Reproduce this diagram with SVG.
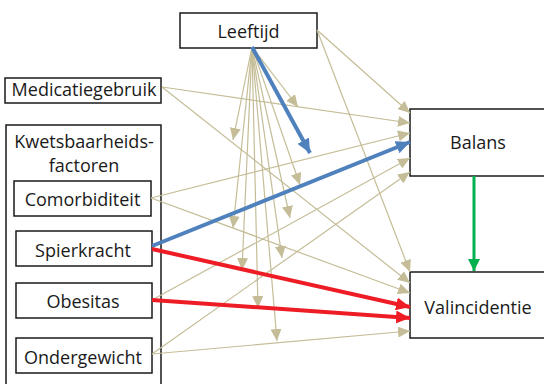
<svg xmlns="http://www.w3.org/2000/svg" width="544" height="384" viewBox="0 0 544 384">
<defs>
<style>
.box{fill:#fff;stroke:#1a1a1a;stroke-width:1.5}
.t{font-family:"Open Sans","Noto Sans",sans-serif;font-size:18px;fill:#1a1a1a;text-anchor:middle}
.tan{stroke:#C4BD97;stroke-width:1.2;fill:none;marker-end:url(#mt)}
.blue{stroke:#4F81BD;stroke-width:4;fill:none;marker-end:url(#mb)}
.red{stroke:#EE1C25;stroke-width:4;fill:none;marker-end:url(#mr)}
.green{stroke:#00B050;stroke-width:3;fill:none;marker-end:url(#mg)}
</style>
<marker id="mt" markerUnits="userSpaceOnUse" markerWidth="13" markerHeight="11" refX="12" refY="5.5" orient="auto"><path d="M0,0 L12,5.5 L0,11 z" fill="#C4BD97"/></marker>
<marker id="mb" markerUnits="userSpaceOnUse" markerWidth="15" markerHeight="13" refX="14" refY="6.5" orient="auto"><path d="M0,0 L14,6.5 L0,13 z" fill="#4F81BD"/></marker>
<marker id="mr" markerUnits="userSpaceOnUse" markerWidth="15" markerHeight="13" refX="14" refY="6.5" orient="auto"><path d="M0,0 L14,6.5 L0,13 z" fill="#EE1C25"/></marker>
<marker id="mg" markerUnits="userSpaceOnUse" markerWidth="13" markerHeight="12" refX="12" refY="6" orient="auto"><path d="M0,0 L12,6 L0,12 z" fill="#00B050"/></marker>
</defs>
<rect width="544" height="384" fill="#fff"/>
<g id="kwetsbaarheidsfactoren">
<rect class="box" x="6" y="125" width="155" height="270"/>
<text class="t" x="84" y="147.5">Kwetsbaarheids-</text>
<text class="t" x="84" y="171.5">factoren</text>
</g>
<g id="leeftijd"><rect class="box" x="180" y="13" width="137" height="35"/><text class="t" x="248.5" y="38">Leeftijd</text></g>
<g id="medicatiegebruik"><rect class="box" x="5" y="78" width="156" height="25"/><text class="t" x="84" y="96">Medicatiegebruik</text></g>
<g id="comorbiditeit"><rect class="box" x="14" y="181" width="137" height="35"/><text class="t" x="82.5" y="206">Comorbiditeit</text></g>
<g id="spierkracht"><rect class="box" x="16" y="231" width="136" height="35"/><text class="t" x="83" y="257">Spierkracht</text></g>
<g id="obesitas"><rect class="box" x="16" y="283" width="136" height="35"/><text class="t" x="83" y="308">Obesitas</text></g>
<g id="ondergewicht"><rect class="box" x="16" y="338" width="136" height="35"/><text class="t" x="83" y="364">Ondergewicht</text></g>
<g id="balans"><rect class="box" x="410" y="109" width="136" height="67"/><text class="t" x="478" y="149">Balans</text></g>
<g id="valincidentie"><rect class="box" x="410" y="272" width="136" height="66"/><text class="t" x="478" y="314">Valincidentie</text></g>
<g id="connectors">
<line class="tan" x1="317" y1="30" x2="410" y2="113"/>
<line class="tan" x1="317" y1="30" x2="410" y2="272"/>
<line class="tan" x1="162" y1="87" x2="410" y2="123"/>
<line class="tan" x1="162" y1="87" x2="410" y2="283"/>
<line class="tan" x1="151" y1="198" x2="410" y2="133"/>
<line class="tan" x1="151" y1="198" x2="410" y2="293"/>
<line class="tan" x1="152" y1="300" x2="410" y2="158"/>
<line class="tan" x1="152" y1="354" x2="410" y2="172"/>
<line class="tan" x1="152" y1="354" x2="410" y2="331"/>
<line class="tan" x1="252" y1="47" x2="298" y2="107"/>
<line class="tan" x1="252" y1="47" x2="233" y2="140"/>
<line class="tan" x1="252" y1="47" x2="300" y2="185"/>
<line class="tan" x1="252" y1="47" x2="233" y2="228"/>
<line class="tan" x1="252" y1="47" x2="290" y2="218"/>
<line class="tan" x1="252" y1="47" x2="282" y2="258"/>
<line class="tan" x1="252" y1="47" x2="242" y2="270"/>
<line class="tan" x1="252" y1="47" x2="258" y2="308"/>
<line class="tan" x1="252" y1="47" x2="277" y2="341"/>
<line class="blue" x1="252" y1="47" x2="310" y2="153"/>
<line class="blue" x1="152" y1="246" x2="410" y2="142"/>
<line class="red" x1="152" y1="249" x2="410" y2="307"/>
<line class="red" x1="152" y1="300" x2="410" y2="318"/>
<line class="green" x1="474" y1="176" x2="474" y2="271"/>
</g>
</svg>
